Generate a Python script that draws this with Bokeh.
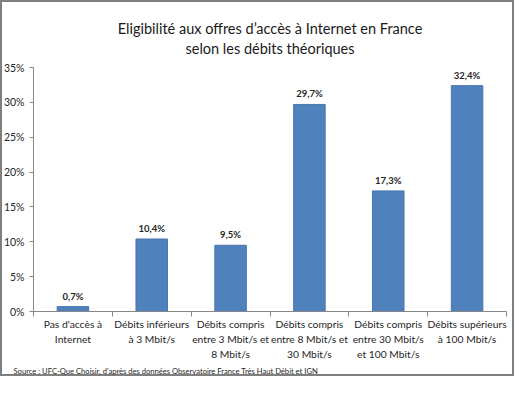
from bokeh.plotting import figure
from bokeh.models import Range1d, FixedTicker, Title, ColumnDataSource
from bokeh.core.properties import value
from bokeh.embed import file_html
from bokeh.resources import INLINE

categories = [
    "Pas d'accès à\nInternet",
    "Débits inférieurs\nà 3 Mbit/s",
    "Débits compris\nentre 3 Mbit/s et\n8 Mbit/s",
    "Débits compris\nentre 8 Mbit/s et\n30 Mbit/s",
    "Débits compris\nentre 30 Mbit/s\net 100 Mbit/s",
    "Débits supérieurs\nà 100 Mbit/s",
]
values = [0.7, 10.4, 9.5, 29.7, 17.3, 32.4]
y_ticks = [0, 5, 10, 15, 20, 25, 30, 35]

FONT = "Lato"

xs = list(range(len(categories)))
labels = [f"{v:.1f}".replace(".", ",") + "%" for v in values]
src = ColumnDataSource(dict(x=xs, top=values, lab=labels))

p = figure(width=514, height=376, output_backend="svg", toolbar_location=None,
           x_range=Range1d(-0.5, len(categories) - 0.5), y_range=Range1d(0, 35),
           min_border_left=32, min_border_right=8, min_border_top=58, min_border_bottom=10)
p.styles = {"outline": "2px solid #7f7f7f", "outline-offset": "-2px", "vertical-align": "top"}
p.outline_line_color = None
p.grid.visible = False
p.background_fill_color = None
p.border_fill_color = None

p.vbar(x="x", top="top", width=0.4, source=src, fill_color="#4F81BD", line_color="#4a76ab", line_width=1)
p.text(x="x", y="top", text="lab", source=src, text_align="center", text_baseline="bottom",
       y_offset=-5, text_font=value(FONT), text_font_style="bold", text_font_size="9.5px", text_color="#262626")

# y axis
p.yaxis.ticker = FixedTicker(ticks=y_ticks, minor_ticks=[])
p.yaxis.major_label_overrides = {t: f"{t}%" for t in y_ticks}
p.yaxis.major_tick_out = 4
p.yaxis.major_tick_in = 0
p.yaxis.minor_tick_out = 0
p.yaxis.major_label_standoff = 5
p.yaxis.axis_line_color = "#868686"
p.yaxis.major_tick_line_color = "#868686"
p.yaxis.major_label_text_font = FONT
p.yaxis.major_label_text_font_size = "10.5px"
p.yaxis.major_label_text_color = "#262626"

# x axis
p.xaxis.ticker = FixedTicker(ticks=xs, minor_ticks=[x - 0.5 for x in xs] + [len(xs) - 0.5])
p.xaxis.major_label_overrides = {x: c for x, c in zip(xs, categories)}
p.xaxis.major_tick_out = 0
p.xaxis.major_tick_in = 0
p.xaxis.minor_tick_out = 5
p.xaxis.minor_tick_in = 0
p.xaxis.minor_tick_line_color = "#868686"
p.xaxis.axis_line_color = "#868686"
p.xaxis.major_label_standoff = 1
p.xaxis.major_label_text_font = FONT
p.xaxis.major_label_text_font_size = "10.3px"
p.xaxis.major_label_text_color = "#262626"
p.xaxis.major_label_text_line_height = 1.27

p.add_layout(Title(text="Source : UFC-Que Choisir, d'après des données Observatoire France Très Haut Débit et IGN",
                   text_font=FONT, text_font_size="7.6px", text_font_style="normal",
                   text_color="#262626", align="left", offset=-20, standoff=2), "below")

p.title.visible = False
p.add_layout(Title(text="selon les débits théoriques", text_font=FONT, text_font_size="14.5px",
                   text_font_style="normal", text_color="#1a1a1a", align="center", offset=-12,
                   standoff=22), "above")
p.add_layout(Title(text="Eligibilité aux offres d’accès à Internet en France", text_font=FONT,
                   text_font_size="14.5px", text_font_style="normal", text_color="#1a1a1a",
                   align="center", offset=-12, standoff=-20), "above")
p.add_layout(Title(text=" ", text_font=FONT, text_font_size="1px", standoff=23), "above")

open("out.html", "w").write(file_html(p, INLINE))
